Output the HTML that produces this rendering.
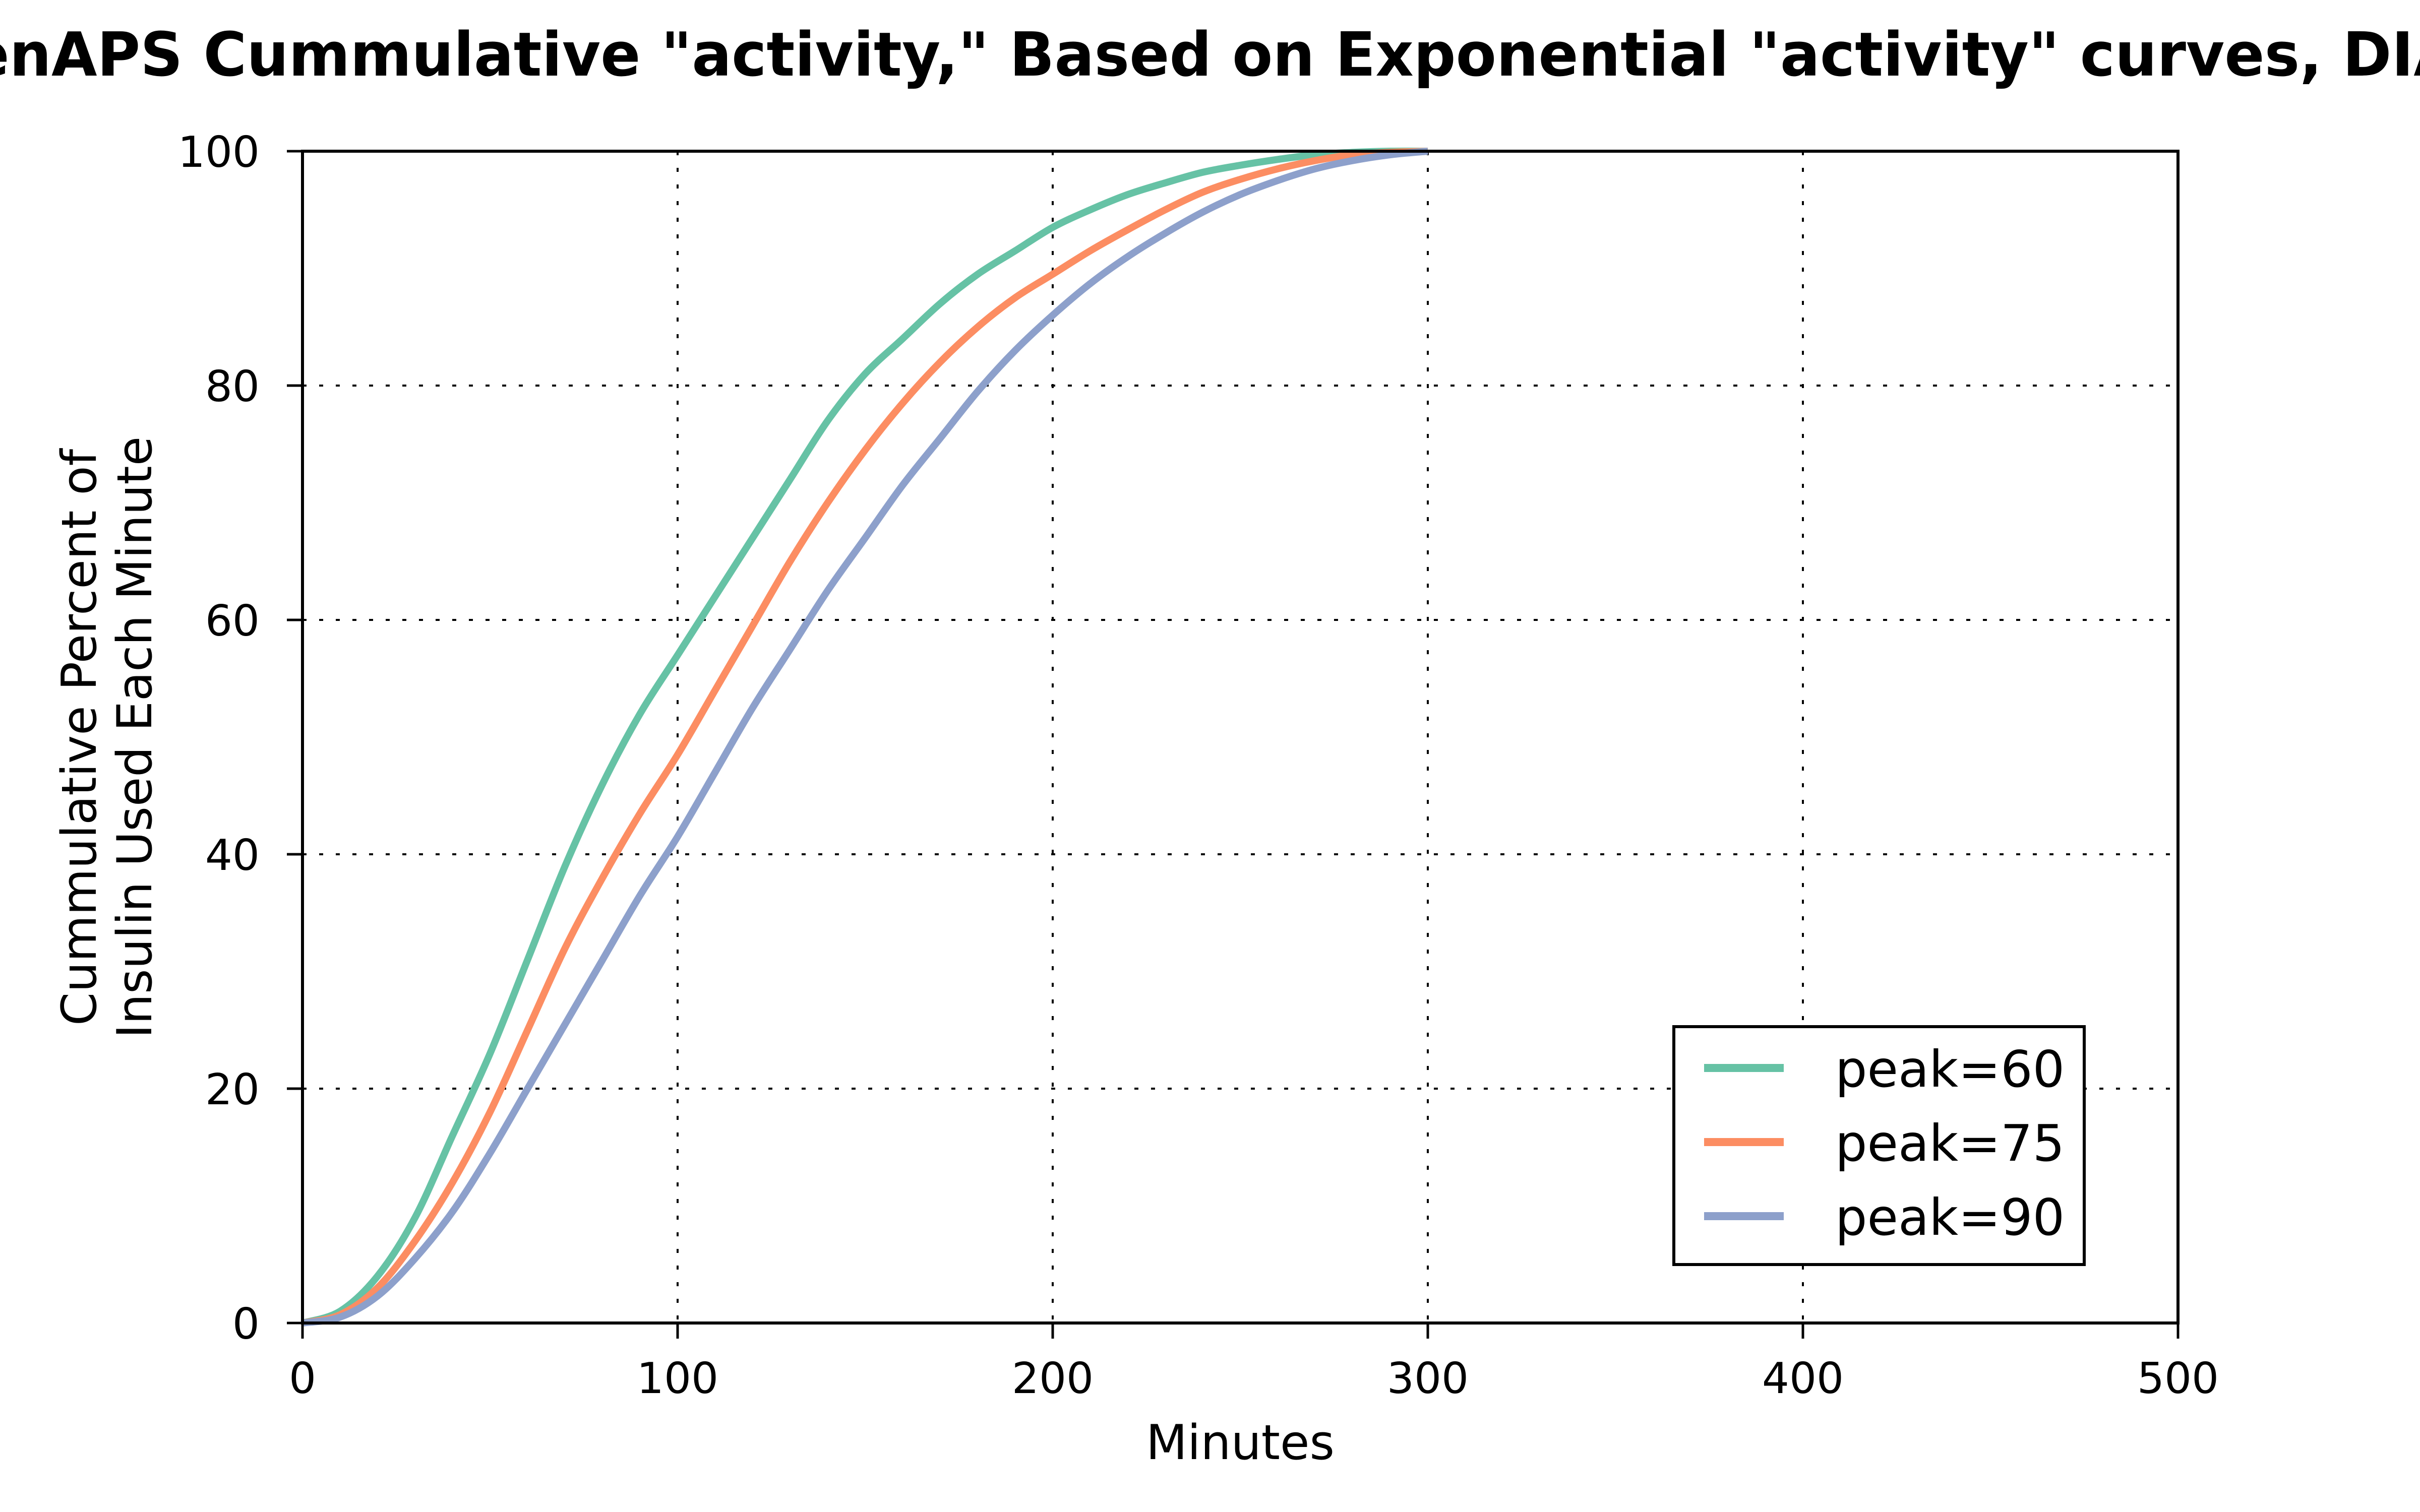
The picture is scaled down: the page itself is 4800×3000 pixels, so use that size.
<!DOCTYPE html>
<html><head><meta charset="utf-8"><style>
html,body{margin:0;padding:0;background:#fff;}
svg{display:block;font-family:"DejaVu Sans","Liberation Sans",sans-serif;}
</style></head><body>
<svg id="chart" width="4800" height="3000" viewBox="0 0 4800 3000" xmlns="http://www.w3.org/2000/svg">
<rect width="4800" height="3000" fill="#fff"/>
<text id="title" x="0" y="150" font-size="120" font-weight="bold">OpenAPS Cummulative "activity," Based on Exponential "activity" curves, DIA=5</text>
<g id="grid"></g>
<g id="series"></g>
<g id="axes"></g>
<text x="2460" y="2895" text-anchor="middle" font-size="95">Minutes</text>
<text transform="translate(0,1463) rotate(-90)" text-anchor="middle" font-size="95"><tspan x="0" y="190">Cummulative Percent of</tspan><tspan x="0" y="300">Insulin Used Each Minute</tspan></text>
<g id="legend"></g>
</svg>
<script>
const minutes = [0,10,20,30,40,50,60,70,80,90,100,110,120,130,140,150,160,170,180,190,200,210,220,230,240,250,260,270,280,290,300];
const peak60 = [0,1,4,9,16,23,31,39,46,52,57,62,67,72,77,81,84,87,89.5,91.5,93.5,95,96.3,97.3,98.2,98.8,99.3,99.7,99.9,100,100];
const peak75 = [0,0.7,3,7,12,18,25,32,38,43.5,48.5,54,59.5,65,70,74.5,78.5,82,85,87.5,89.5,91.5,93.3,95,96.5,97.6,98.5,99.2,99.7,99.9,100];
const peak90 = [0,0.5,2.3,5.5,9.5,14.5,20,25.5,31,36.5,41.5,47,52.5,57.5,62.5,67,71.5,75.5,79.5,83,86,88.7,91,93,94.8,96.3,97.5,98.5,99.2,99.7,100];
const seriesNames = ["peak=60","peak=75","peak=90"];
const xTicks = [0,100,200,300,400,500];
const yTicks = [0,20,40,60,80,100];

const NS="http://www.w3.org/2000/svg";
const L=600,R=4320,T=300,B=2625;
const xs=v=>L+(v-0)/(500-0)*(R-L);
const ys=v=>B-(v-0)/(100-0)*(B-T);
function mk(tag,attrs,parent){const e=document.createElementNS(NS,tag);for(const k in attrs)e.setAttribute(k,attrs[k]);parent.appendChild(e);return e;}
// fit title so "A" of OpenAPS at x=102 and "D" of DIA at x=4647
(function(){
  const t=document.getElementById('title');
  const s=t.textContent;
  try{
    const iA=s.indexOf('APS'), iD=s.indexOf('DIA');
    const xA=t.getStartPositionOfChar(iA).x, xD=t.getStartPositionOfChar(iD).x;
    const sc=(4647-102)/(xD-xA);
    t.setAttribute('transform','translate(102,0) scale('+sc+',1) translate('+(-xA)+',0)');
  }catch(e){t.setAttribute('x','-180');}
})();
const grid=document.getElementById('grid'),axes=document.getElementById('axes'),ser=document.getElementById('series'),leg=document.getElementById('legend');
xTicks.forEach(t=>{
  if(t>0&&t<500){const g=mk('line',{x1:xs(t),x2:xs(t),y1:T,y2:B,stroke:'#000','stroke-width':4,'stroke-dasharray':'8 25'},grid);
  
  }
  const tk=mk('line',{x1:xs(t),x2:xs(t),y1:B,y2:B+31,stroke:'#000','stroke-width':5},axes);
  
  
  const lb=mk('text',{x:xs(t),y:2764,'text-anchor':'middle','font-size':85},axes);lb.textContent=t;
  
  
});
yTicks.forEach(t=>{
  if(t>0&&t<100){const g=mk('line',{x1:L,x2:R,y1:ys(t),y2:ys(t),stroke:'#000','stroke-width':4,'stroke-dasharray':'8 25'},grid);
  
  }
  const tk=mk('line',{x1:L-31,x2:L,y1:ys(t),y2:ys(t),stroke:'#000','stroke-width':5},axes);
  
  
  const lb=mk('text',{x:515,y:ys(t)+31,'text-anchor':'end','font-size':85},axes);lb.textContent=t;
  
  
});
const colors=['#66c2a5','#fc8d62','#8da0cb'];
function smooth(pts){
  let d='M'+pts[0][0].toFixed(1)+' '+pts[0][1].toFixed(1);
  for(let i=0;i<pts.length-1;i++){
    const p0=pts[Math.max(0,i-1)],p1=pts[i],p2=pts[i+1],p3=pts[Math.min(pts.length-1,i+2)];
    const c1x=p1[0]+(p2[0]-p0[0])/6,c1y=p1[1]+(p2[1]-p0[1])/6;
    const c2x=p2[0]-(p3[0]-p1[0])/6,c2y=p2[1]-(p3[1]-p1[1])/6;
    d+=' C'+c1x.toFixed(1)+' '+c1y.toFixed(1)+' '+c2x.toFixed(1)+' '+c2y.toFixed(1)+' '+p2[0].toFixed(1)+' '+p2[1].toFixed(1);
  }
  return d;
}
[peak60,peak75,peak90].forEach((s,i)=>{
  const pts=s.map((v,j)=>[xs(minutes[j]),ys(v)]);
  const p=mk('path',{d:smooth(pts),fill:'none',stroke:colors[i],'stroke-width':14,'stroke-linejoin':'round'},ser);
  
  
});
const fr=mk('rect',{x:L,y:T,width:R-L,height:B-T,fill:'none',stroke:'#000','stroke-width':6},axes);


const box=mk('rect',{x:3320,y:2037,width:814,height:472,fill:'#fff',stroke:'#000','stroke-width':6},leg);


seriesNames.forEach((n,i)=>{
  const y=2119+i*147;
  const ln=mk('line',{x1:3380,x2:3538,y1:y,y2:y,stroke:colors[i],'stroke-width':16},leg);
  
  
  const tx=mk('text',{x:3640,y:y+37,'font-size':100},leg);tx.textContent=n;
  
  
});
</script>
</body></html>
